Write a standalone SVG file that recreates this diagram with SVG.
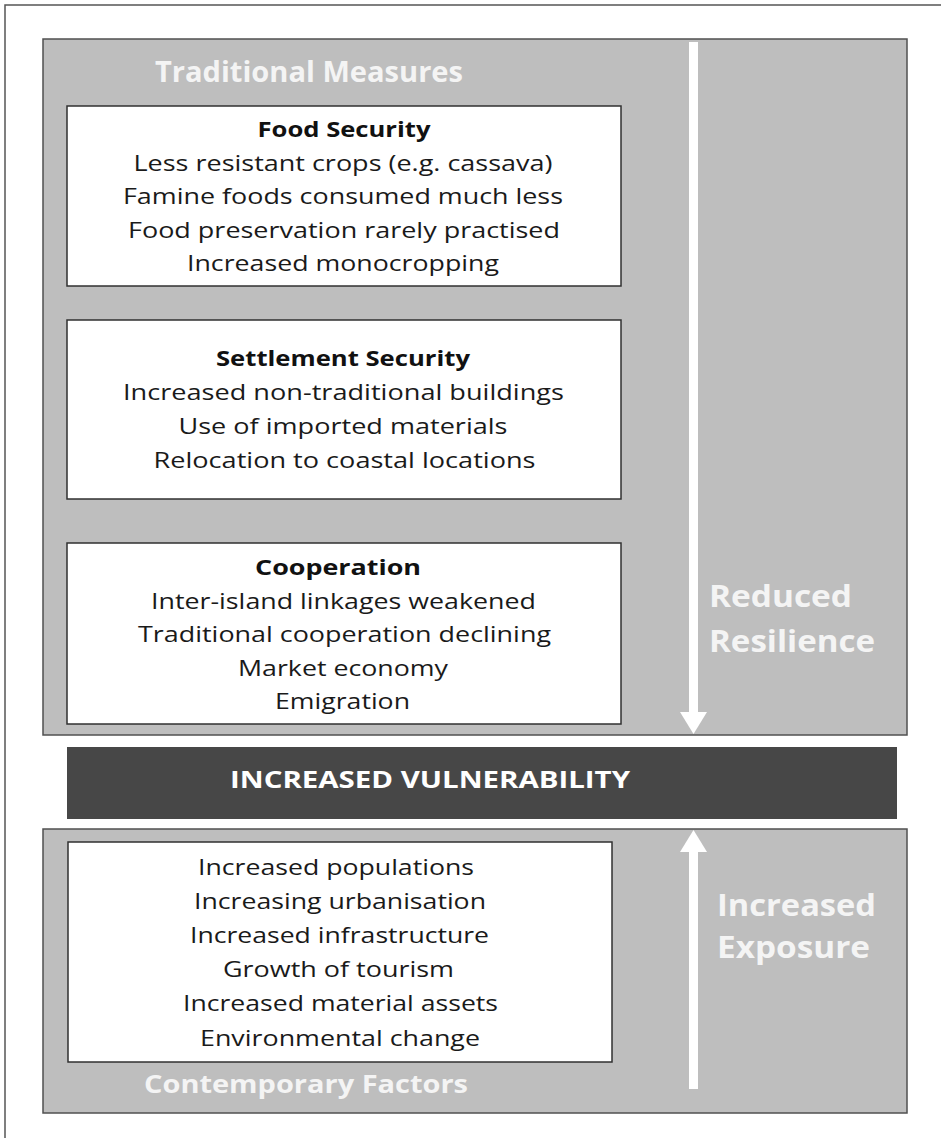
<svg xmlns="http://www.w3.org/2000/svg" width="941" height="1138" viewBox="0 0 941 1138">
<style>
.panel{fill:#bebebe;stroke:#505050;stroke-width:1.5}
.box{fill:#ffffff;stroke:#303030;stroke-width:1.5}
.body{font-family:"Open Sans","Noto Sans","DejaVu Sans",sans-serif;font-size:22px;fill:#1a1a1a;text-anchor:middle}
.head{font-family:"Open Sans","Noto Sans","DejaVu Sans",sans-serif;font-size:22px;font-weight:bold;fill:#111;text-anchor:middle}
.lbl{font-family:"Open Sans","Noto Sans","DejaVu Sans",sans-serif;font-weight:bold;fill:#f4f4f4}
.arrow{fill:#ffffff}
</style>
<rect x="0" y="0" width="941" height="1138" fill="#ffffff"/>
<rect x="5" y="5" width="960" height="1160" fill="none" stroke="#555" stroke-width="1.5"/>

<g id="traditional-measures">
<rect class="panel" x="43" y="39" width="864" height="696"/>
<text class="lbl" x="155" y="82" font-size="28" textLength="308" lengthAdjust="spacingAndGlyphs">Traditional Measures</text>
</g>

<g id="food-security">
<rect class="box" x="67" y="106" width="554" height="180"/>
<text class="head" x="344" y="137" textLength="173" lengthAdjust="spacingAndGlyphs">Food Security</text>
<text class="body" x="343" y="170.5" textLength="419" lengthAdjust="spacingAndGlyphs">Less resistant crops (e.g. cassava)</text>
<text class="body" x="343" y="204" textLength="440" lengthAdjust="spacingAndGlyphs">Famine foods consumed much less</text>
<text class="body" x="344" y="237.5" textLength="432" lengthAdjust="spacingAndGlyphs">Food preservation rarely practised</text>
<text class="body" x="343" y="271" textLength="312" lengthAdjust="spacingAndGlyphs">Increased monocropping</text>
</g>

<g id="settlement-security">
<rect class="box" x="67" y="320" width="554" height="179"/>
<text class="head" x="343" y="366" textLength="254" lengthAdjust="spacingAndGlyphs">Settlement Security</text>
<text class="body" x="343.5" y="400" textLength="441" lengthAdjust="spacingAndGlyphs">Increased non-traditional buildings</text>
<text class="body" x="343" y="434" textLength="329" lengthAdjust="spacingAndGlyphs">Use of imported materials</text>
<text class="body" x="344.5" y="467.5" textLength="382" lengthAdjust="spacingAndGlyphs">Relocation to coastal locations</text>
</g>

<g id="cooperation">
<rect class="box" x="67" y="543" width="554" height="181"/>
<text class="head" x="338" y="575" textLength="166" lengthAdjust="spacingAndGlyphs">Cooperation</text>
<text class="body" x="343.5" y="609" textLength="385" lengthAdjust="spacingAndGlyphs">Inter-island linkages weakened</text>
<text class="body" x="344.5" y="642" textLength="413" lengthAdjust="spacingAndGlyphs">Traditional cooperation declining</text>
<text class="body" x="343" y="676" textLength="210" lengthAdjust="spacingAndGlyphs">Market economy</text>
<text class="body" x="342.5" y="709" textLength="135" lengthAdjust="spacingAndGlyphs">Emigration</text>
</g>

<g id="reduced-resilience">
<text class="lbl" x="709" y="607" font-size="30" textLength="143" lengthAdjust="spacingAndGlyphs">Reduced</text>
<text class="lbl" x="709" y="652" font-size="30" textLength="166" lengthAdjust="spacingAndGlyphs">Resilience</text>
</g>

<g id="increased-vulnerability">
<rect x="67" y="747" width="830" height="72" fill="#474747"/>
<text x="430" y="788" font-family="'Open Sans','Noto Sans','DejaVu Sans',sans-serif" font-size="23" font-weight="bold" fill="#ffffff" text-anchor="middle" textLength="400" lengthAdjust="spacingAndGlyphs">INCREASED VULNERABILITY</text>
</g>

<g id="contemporary-factors">
<rect class="panel" x="43" y="829" width="864" height="284"/>
<text class="lbl" x="144" y="1093" font-size="25" textLength="324" lengthAdjust="spacingAndGlyphs">Contemporary Factors</text>
</g>

<g id="factors-list">
<rect class="box" x="68" y="842" width="544" height="220"/>
<text class="body" x="336" y="875" textLength="276" lengthAdjust="spacingAndGlyphs">Increased populations</text>
<text class="body" x="340" y="909" textLength="292" lengthAdjust="spacingAndGlyphs">Increasing urbanisation</text>
<text class="body" x="339.5" y="943" textLength="299" lengthAdjust="spacingAndGlyphs">Increased infrastructure</text>
<text class="body" x="338.5" y="977" textLength="231" lengthAdjust="spacingAndGlyphs">Growth of tourism</text>
<text class="body" x="340.5" y="1011" textLength="315" lengthAdjust="spacingAndGlyphs">Increased material assets</text>
<text class="body" x="340" y="1046" textLength="280" lengthAdjust="spacingAndGlyphs">Environmental change</text>
</g>

<g id="increased-exposure">
<text class="lbl" x="717" y="916" font-size="30" textLength="159" lengthAdjust="spacingAndGlyphs">Increased</text>
<text class="lbl" x="717" y="958" font-size="30" textLength="153" lengthAdjust="spacingAndGlyphs">Exposure</text>
</g>

<g id="connectors">
<rect class="arrow" x="689" y="42" width="9" height="671"/>
<polygon class="arrow" points="680,712 707,712 693.5,734"/>
<polygon class="arrow" points="693.5,830 680,852 707,852"/>
<rect class="arrow" x="689" y="851" width="9" height="238"/>
</g>
</svg>
